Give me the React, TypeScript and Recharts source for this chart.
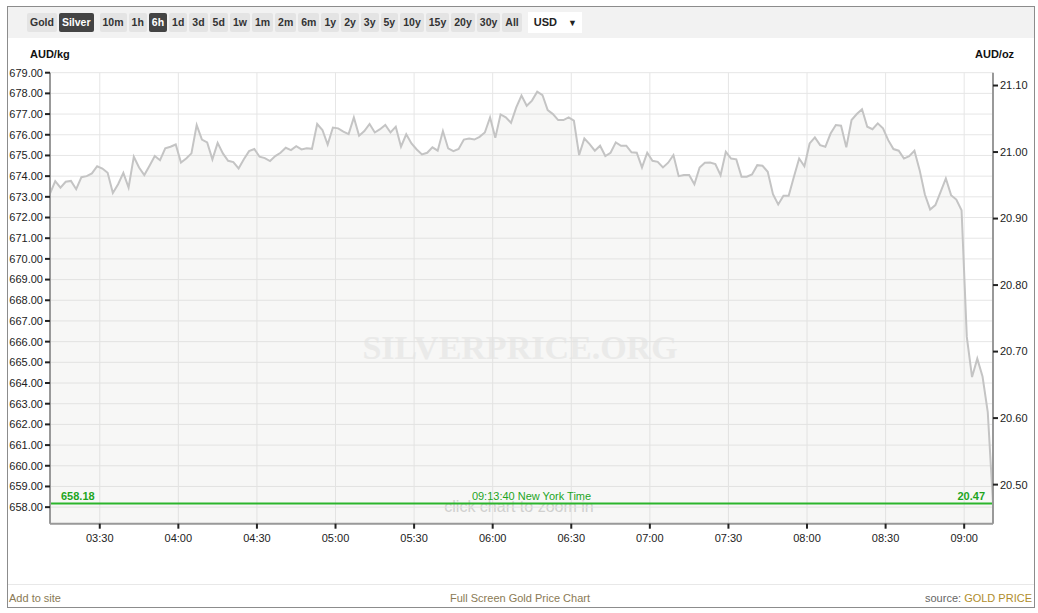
import React from 'react';
import { ComposedChart, Area, XAxis, YAxis, CartesianGrid, ReferenceLine } from 'recharts';

const OZ_PER_KG = 32.1507;
const START_MIN = 191; // 03:11, first sample
const STEP_MIN = 2;

// silver price, AUD/kg, one sample every 2 minutes
const audKg = [
  673.16, 673.76, 673.44, 673.73, 673.77, 673.37, 673.95, 674.0, 674.13, 674.48,
  674.37, 674.16, 673.19, 673.61, 674.16, 673.45, 674.94, 674.42, 674.05, 674.5,
  674.97, 674.77, 675.34, 675.42, 675.53, 674.66, 674.85, 675.1, 676.47, 675.77,
  675.63, 674.81, 675.61, 675.1, 674.74, 674.68, 674.37, 674.82, 675.21, 675.31,
  674.94, 674.87, 674.73, 674.97, 675.13, 675.37,
  675.26, 675.45, 675.29, 675.35, 675.32, 676.52, 676.23, 675.53, 676.35, 676.31,
  676.15, 676.03, 676.84, 675.95, 676.18, 676.52, 676.11, 676.27, 676.47, 676.11,
  676.39, 675.42, 676.02, 675.58, 675.29, 675.05, 675.13, 675.39, 675.23, 676.18,
  675.34, 675.21, 675.31, 675.77, 675.82, 675.77, 675.9, 676.11, 676.84, 675.85,
  676.98, 676.84, 676.58, 677.32, 677.89,
  677.4, 677.65, 678.08, 677.92, 677.19, 677.0, 676.71, 676.71, 676.84, 676.68,
  675.02, 675.82, 675.55, 675.23, 675.47, 674.97, 675.13, 675.63, 675.47, 675.47,
  675.15, 675.13, 674.42, 675.13, 674.74, 674.69, 674.42, 674.65, 675.02, 674.0,
  674.05, 674.05, 673.61, 674.42, 674.65, 674.66, 674.58, 674.05, 675.18, 674.85,
  674.81, 673.97, 673.97, 674.08, 674.53, 674.5, 674.21,
  673.13, 672.63, 673.05, 673.05, 673.97, 674.85, 674.48, 675.58, 675.87, 675.5,
  675.42, 676.06, 676.47, 676.44, 675.39, 676.71, 677.0, 677.23, 676.39, 676.27,
  676.55, 676.31, 675.74, 675.31, 675.23, 674.85, 674.97, 675.23, 674.29, 673.11,
  672.39, 672.6, 673.24, 673.89, 673.08, 672.87, 672.35, 666.23, 664.29, 665.18,
  664.32, 662.6, 658.18,
];

const kgTicks = [
  658, 659, 660, 661, 662, 663, 664, 665, 666, 667, 668,
  669, 670, 671, 672, 673, 674, 675, 676, 677, 678, 679,
];
const ozTicks = [20.5, 20.6, 20.7, 20.8, 20.9, 21.0, 21.1];
const timeTicks = [210, 240, 270, 300, 330, 360, 390, 420, 450, 480, 510, 540];

const KG_MIN = 657.2;
const KG_MAX = 679;
const lastKg = 658.18;
const lastOz = 20.47;
const lastTime = '09:13:40';

const metals = ['Gold', 'Silver'];
const ranges = ['10m', '1h', '6h', '1d', '3d', '5d', '1w', '1m', '2m', '6m', '1y', '2y', '3y', '5y', '10y', '15y', '20y', '30y', 'All'];
const activeMetal = 'Silver';
const activeRange = '6h';

const data = audKg.map((v, i) => ({ t: START_MIN + i * STEP_MIN, v }));

const fmtTime = (m: number) =>
  `${String(Math.floor(m / 60)).padStart(2, '0')}:${String(m % 60).padStart(2, '0')}`;

const FONT = '"Liberation Sans", Arial, sans-serif';
const GREEN = '#1ea51e';

const tickStyle = { fill: '#222', fontSize: 11, fontFamily: FONT };

function Btn({ label, active }: { label: string; active: boolean }) {
  return (
    <div
      style={{
        height: 19,
        lineHeight: '19px',
        padding: '0 3px',
        marginRight: 2,
        background: active ? '#444' : '#e4e4e4',
        color: active ? '#fff' : '#333',
        fontWeight: 'bold',
        fontSize: 10.5,
        borderRadius: 2,
      }}
    >
      {label}
    </div>
  );
}

function RefLabels(props: any) {
  const { x, y, width } = props.viewBox;
  return (
    <g fontFamily={FONT} fontSize={11} fill={GREEN}>
      <text x={x + 11} y={y - 3} fontWeight="bold">{lastKg.toFixed(2)}</text>
      <text x={x + width / 2 + 10} y={y - 3} textAnchor="middle">{lastTime} New York Time</text>
      <text x={x + width - 8} y={y - 3} textAnchor="end" fontWeight="bold">{lastOz.toFixed(2)}</text>
    </g>
  );
}

export default function App() {
  return (
    <div style={{ position: 'absolute', left: 0, top: 0, width: 1038, height: 613, fontFamily: FONT, background: '#fff' }}>
      {/* frame */}
      <div style={{ position: 'absolute', left: 7, top: 6, width: 1028, height: 602, boxSizing: 'border-box', border: '1px solid #8c8c8c' }} />
      {/* toolbar */}
      <div style={{ position: 'absolute', left: 8, top: 7, width: 1026, height: 31, background: '#f2f2f2' }} />
      <div style={{ position: 'absolute', left: 27, top: 12, display: 'flex', alignItems: 'center' }}>
        {metals.map((m) => <Btn key={m} label={m} active={m === activeMetal} />)}
        <div style={{ width: 4 }} />
        {ranges.map((r) => <Btn key={r} label={r} active={r === activeRange} />)}
        <div style={{ marginLeft: 4, height: 21, lineHeight: '21px', width: 54, background: '#fff', fontSize: 11, fontWeight: 'bold', color: '#222', paddingLeft: 6, boxSizing: 'border-box' }}>
          USD <span style={{ marginLeft: 8, fontSize: 9 }}>▼</span>
        </div>
      </div>
      {/* axis titles */}
      <div style={{ position: 'absolute', left: 30, top: 48, fontSize: 11, fontWeight: 'bold', color: '#111' }}>AUD/kg</div>
      <div style={{ position: 'absolute', left: 975, top: 48, fontSize: 11, fontWeight: 'bold', color: '#111' }}>AUD/oz</div>

      {/* watermark and hint under the chart */}
      <div style={{ position: 'absolute', left: 250, width: 540, top: 329, textAlign: 'center', fontFamily: '"Liberation Serif", serif', fontWeight: 'bold', fontSize: 34, color: '#efefef' }}>
        SILVERPRICE.ORG
      </div>
      <div style={{ position: 'absolute', left: 319, width: 400, top: 498, textAlign: 'center', fontSize: 16, color: '#cfcfcf' }}>
        click chart to zoom in
      </div>

      <div style={{ position: 'absolute', left: 0, top: 0 }}>
        <ComposedChart width={1038} height={613} data={data} margin={{ top: 72.7, right: 0, bottom: 59.3, left: 0 }}>
          <CartesianGrid yAxisId="left" stroke="#e6e6e6" strokeWidth={1} />
          <XAxis
            dataKey="t"
            type="number"
            domain={[START_MIN, START_MIN + (audKg.length - 1) * STEP_MIN]}
            ticks={timeTicks}
            tickFormatter={fmtTime}
            height={30}
            tickSize={5}
            tickMargin={5}
            axisLine={{ stroke: '#999', strokeWidth: 2 }}
            tickLine={{ stroke: '#222', strokeWidth: 2 }}
            tick={tickStyle}
          />
          <YAxis
            yAxisId="left"
            orientation="left"
            width={50}
            domain={[KG_MIN, KG_MAX]}
            allowDataOverflow
            ticks={kgTicks}
            interval={0}
            tickFormatter={(v: number) => v.toFixed(2)}
            tickSize={5}
            tickMargin={2}
            axisLine={{ stroke: '#999', strokeWidth: 2 }}
            tickLine={{ stroke: '#222', strokeWidth: 2 }}
            tick={tickStyle}
          />
          <YAxis
            yAxisId="right"
            orientation="right"
            width={45}
            domain={[KG_MIN / OZ_PER_KG, KG_MAX / OZ_PER_KG]}
            allowDataOverflow
            ticks={ozTicks}
            interval={0}
            tickFormatter={(v: number) => v.toFixed(2)}
            tickSize={5}
            tickMargin={2}
            axisLine={{ stroke: '#999', strokeWidth: 2 }}
            tickLine={{ stroke: '#222', strokeWidth: 2 }}
            tick={tickStyle}
          />
          <Area
            yAxisId="left"
            type="linear"
            dataKey="v"
            stroke="#c4c4c4"
            strokeWidth={2}
            fill="#d8d8d0"
            fillOpacity={0.2}
            dot={false}
            activeDot={false}
            isAnimationActive={false}
          />
          <ReferenceLine yAxisId="left" y={lastKg} stroke="#2cb52c" strokeWidth={2} label={RefLabels} />
        </ComposedChart>
      </div>

      {/* footer */}
      <div style={{ position: 'absolute', left: 8, top: 584, width: 1026, height: 1, background: '#e8e8e8' }} />
      <div style={{ position: 'absolute', left: 9, top: 592, fontSize: 11, color: '#8a7a55' }}>Add to site</div>
      <div style={{ position: 'absolute', left: 320, width: 400, top: 592, textAlign: 'center', fontSize: 11, color: '#8a7a55' }}>
        Full Screen Gold Price Chart
      </div>
      <div style={{ position: 'absolute', right: 1038 - 1032, top: 592, fontSize: 11, color: '#666' }}>
        source: <span style={{ color: '#b08d2c' }}>GOLD PRICE</span>
      </div>
    </div>
  );
}
